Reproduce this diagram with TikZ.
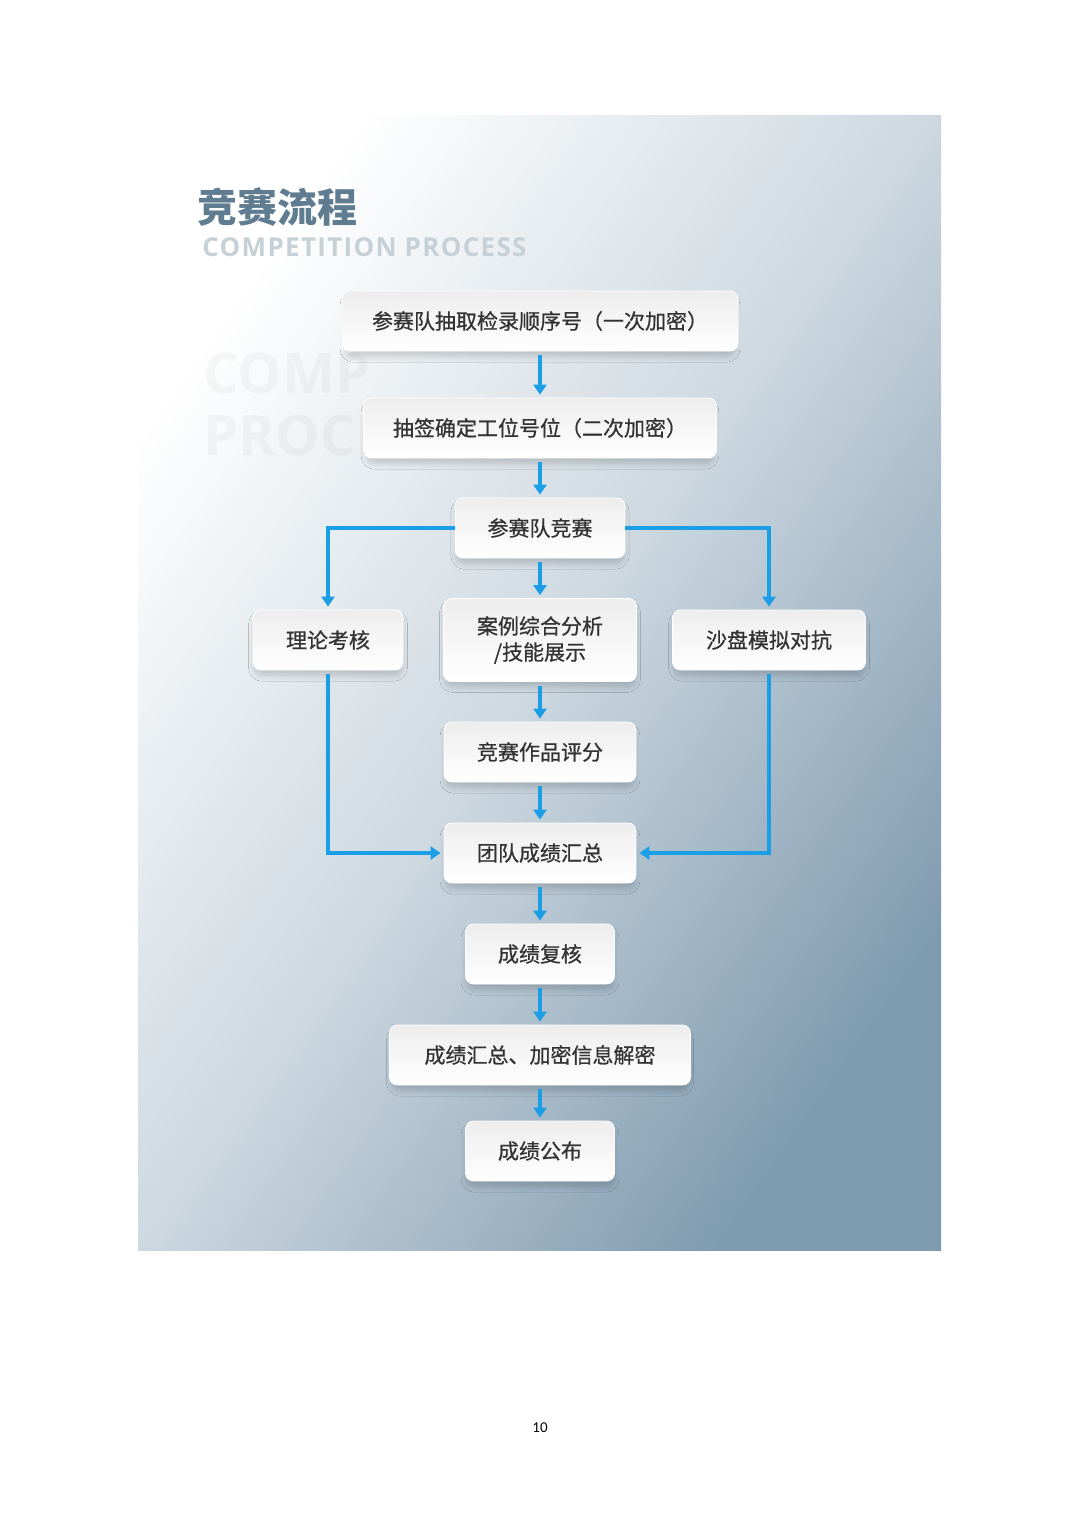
\documentclass[tikz,border=0pt]{standalone}
\usepackage{fontspec}
\setmainfont{Open Sans}
\newfontfamily\cjk{Noto Sans CJK SC}
\newfontfamily\cjkbox{Noto Sans CJK SC}[FakeBold=0.7]
\newfontfamily\subfont{Open Sans}[LetterSpace=5]
\newfontfamily\pagenum{Carlito}
\usepackage{xcolor}
\usepackage{tikz}
\usetikzlibrary{positioning, arrows.meta, shadows.blur}

\definecolor{flowblue}{HTML}{1A9FE6}
\definecolor{titlegray}{HTML}{5F7C91}
\definecolor{subgray}{HTML}{C6D0D7}
\definecolor{textgray}{HTML}{333333}
\definecolor{panelmid}{HTML}{CDD8E0}
\definecolor{panelend}{HTML}{7F9BB0}

\tikzset{
  box/.style={rectangle, rounded corners=4pt, minimum height=30pt,
    top color=black!7, bottom color=white, draw=white, line width=0.4pt,
    text=textgray, align=center,
    font=\cjkbox\fontsize{10.5pt}{13pt}\selectfont,
    blur shadow={shadow xshift=0pt, shadow yshift=-3pt, shadow scale=0.98,
      shadow opacity=18, shadow blur radius=3pt, shadow blur steps=10}},
  flow/.style={draw=flowblue, line width=2pt, -{Triangle[length=5pt, width=6.5pt]},
    shorten <=2pt, shorten >=1.5pt},
  mark text/.style={anchor=base west, inner sep=0, text=black, text opacity=0.03,
    font=\bfseries\fontsize{28pt}{30pt}\selectfont}
}

\begin{document}
\begin{tikzpicture}[x=0.5pt, y=-0.5pt, node distance=50pt, on grid]
        \useasboundingbox (0,0) rectangle (1080,1527);
        \fill[white] (0,0) rectangle (1080,1527);
        % panel
        \shade[top color=white, bottom color=panelend, middle color=panelmid, shading angle=55]
            (138,115) rectangle (941,1250);

        % watermark, fades out behind the boxes
        \begin{scope}
            \clip (138,330) rectangle (368,470);
            \node[mark text] (wm1) at (203,393) {COMPETITION};
            \node[mark text] (wm2) at (203,455) {PROCESS};
        \end{scope}

        % title
        \node[anchor=west, inner sep=0, text=titlegray,
              font=\cjk\bfseries\fontsize{20pt}{24pt}\selectfont] (title) at (197,207) {竞赛流程};
        \node[anchor=west, inner sep=0, text=subgray,
              font=\subfont\bfseries\fontsize{13pt}{15pt}\selectfont] (subtitle) at (202,247) {COMPETITION PROCESS};

        % flow
        \node[box, minimum width=198pt] (draw1) at (540,321) {参赛队抽取检录顺序号（一次加密）};
        \node[box, minimum width=176.5pt] (draw2) [below=53.5pt of draw1] {抽签确定工位号位（二次加密）};
        \node[box, minimum width=85pt] (compete) [below=50pt of draw2] {参赛队竞赛};
        \node[box, minimum width=96.5pt, minimum height=41.5pt] (case) [below=56pt of compete] {案例综合分析\\/技能展示};
        \node[box, minimum width=75pt] (theory) [left=106pt of case] {理论考核};
        \node[box, minimum width=96.5pt] (sandbox) [right=114.5pt of case] {沙盘模拟对抗};
        \node[box, minimum width=96pt] (score) [below=56pt of case] {竞赛作品评分};
        \node[box, minimum width=96pt] (total) [below=50.5pt of score] {团队成绩汇总};
        \node[box, minimum width=74.5pt] (review) [below=50.5pt of total] {成绩复核};
        \node[box, minimum width=150.5pt] (decrypt) [below=50.5pt of review] {成绩汇总、加密信息解密};
        \node[box, minimum width=74.5pt] (publish) [below=48pt of decrypt] {成绩公布};

        \draw[flow] (draw1) -- (draw2);
        \draw[flow] (draw2) -- (compete);
        \draw[flow] (compete) -- (case);
        \draw[flow] (case) -- (score);
        \draw[flow] (score) -- (total);
        \draw[flow] (total) -- (review);
        \draw[flow] (review) -- (decrypt);
        \draw[flow] (decrypt) -- (publish);
        \draw[flow, shorten <=0pt] (compete.west) -| (theory.north);
        \draw[flow, shorten <=0pt] (compete.east) -| (sandbox.north);
        \draw[flow] (theory.south) |- (total.west);
        \draw[flow] (sandbox.south) |- (total.east);

        \node[font=\pagenum\fontsize{7.5pt}{9pt}\selectfont] (page) at (540,1428) {10};
\end{tikzpicture}
\end{document}
